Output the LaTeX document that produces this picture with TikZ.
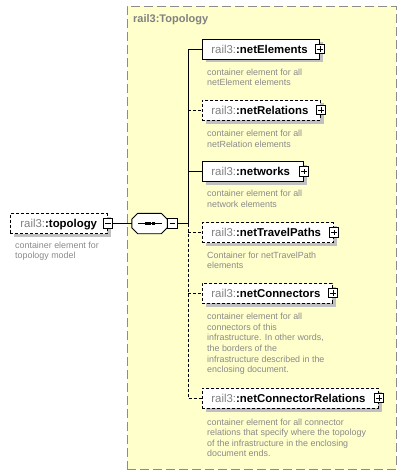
\documentclass[tikz,border=0pt]{standalone}
\usepackage{fontspec}
\setmainfont{Liberation Sans}
\usetikzlibrary{shadows}
\definecolor{cplxfill}{HTML}{FFFFCC}
\definecolor{cplxline}{HTML}{8C8C8C}
\definecolor{pfxgray}{HTML}{808080}
\definecolor{descgray}{HTML}{8A8A8A}
\definecolor{shadowgray}{HTML}{C0C0C0}
% element caption: grey namespace prefix, bold local name
\newcommand\elname[2]{\makebox[#1][l]{\textcolor{pfxgray}{rail3:}\textbf{:#2}}}
\begin{document}
\begin{tikzpicture}[x=1pt,y=-1pt,
  elem/.style={draw=black, fill=white, line width=0.9pt, anchor=west,
    minimum height=20pt, inner xsep=9pt, inner ysep=0pt,
    text height=8.2pt, text depth=0pt,
    font=\fontsize{11.4}{13}\selectfont,
    drop shadow={shadow xshift=4pt, shadow yshift=-3.5pt, fill=shadowgray, opacity=1}},
  optelem/.style={elem, dash pattern=on 3pt off 2pt},
  toggle/.style={draw=black, fill=white, line width=0.8pt, minimum size=9.5pt,
    inner sep=0pt},
  plusbox/.style={toggle, path picture={
    \draw[line width=0.8pt] ([xshift=2pt]path picture bounding box.west) -- ([xshift=-2pt]path picture bounding box.east);
    \draw[line width=0.8pt] ([yshift=-2pt]path picture bounding box.north) -- ([yshift=2pt]path picture bounding box.south);}},
  minusbox/.style={toggle, path picture={
    \draw[line width=0.8pt] ([xshift=2pt]path picture bounding box.west) -- ([xshift=-2pt]path picture bounding box.east);}},
  desc/.style={anchor=north west, inner sep=0pt, align=left, text=descgray,
    font=\fontsize{8.9}{10.6}\selectfont},
  wire/.style={line width=0.9pt, draw=black},
  optwire/.style={wire, dash pattern=on 3pt off 2pt}
]
\useasboundingbox (0,0) rectangle (406,476);

% complex type container
\node[draw=cplxline, fill=cplxfill, line width=0.9pt, dash pattern=on 9pt off 4pt,
  minimum width=269pt, minimum height=463pt, anchor=north west, inner sep=0pt]
  (cplx) at (127,6) {};
\node[anchor=base west, inner sep=0pt, text=pfxgray,
  font=\fontsize{11}{13}\selectfont\bfseries] (title) at (133,23) {rail3:Topology};

% root element
\node[optelem, inner xsep=10pt] (topo) at (10,223.5) {\elname{77pt}{topology}};
\node[minusbox] (topom) at (topo.east) {};
\node[desc] (topod) at (15,241.5) {container element for\\topology model};

% sequence compositor
\node[minimum width=35pt, minimum height=20pt, inner sep=0pt] (seq) at (149.5,223.5) {};
\fill[shadowgray, shift={(4pt,-4pt)}]
  ([xshift=6pt]seq.north west) -- ([xshift=-6pt]seq.north east)
  -- ([yshift=-6pt]seq.north east) -- ([yshift=6pt]seq.south east)
  -- ([xshift=-6pt]seq.south east) -- ([xshift=6pt]seq.south west)
  -- ([yshift=6pt]seq.south west) -- ([yshift=-6pt]seq.north west) -- cycle;
\draw[wire, fill=white]
  ([xshift=6pt]seq.north west) -- ([xshift=-6pt]seq.north east)
  -- ([yshift=-6pt]seq.north east) -- ([yshift=6pt]seq.south east)
  -- ([xshift=-6pt]seq.south east) -- ([xshift=6pt]seq.south west)
  -- ([yshift=6pt]seq.south west) -- ([yshift=-6pt]seq.north west) -- cycle;
\draw[wire] ([xshift=-11.5pt]seq.center) -- ([xshift=12.5pt]seq.center);
\foreach \dx in {-5,-1.5,2} {
  \fill ([xshift=\dx pt, yshift=-1.5pt]seq.center) rectangle ++(3pt,3pt);
}
\node[minusbox, anchor=west] (seqm) at (seq.east) {};

% child elements
\node[elem] (ne) at (202,49) {\elname{99pt}{netElements}};
\node[plusbox] (nem) at (ne.east) {};
\node[desc] (ned) at (207,68.5) {container element for all\\netElement elements};

\node[optelem] (nr) at (202,110) {\elname{100pt}{netRelations}};
\node[plusbox] (nrm) at (nr.east) {};
\node[desc] (nrd) at (207,130) {container element for all\\netRelation elements};

\node[elem] (nw) at (202,171.5) {\elname{83pt}{networks}};
\node[plusbox] (nwm) at (nw.east) {};
\node[desc] (nwd) at (207,190) {container element for all\\network elements};

\node[optelem] (ntp) at (202,232.5) {\elname{113pt}{netTravelPaths}};
\node[plusbox] (ntpm) at (ntp.east) {};
\node[desc] (ntpd) at (207,251.5) {Container for netTravelPath\\elements};

\node[optelem] (nc) at (202,293) {\elname{112pt}{netConnectors}};
\node[plusbox] (ncm) at (nc.east) {};
\node[desc] (ncd) at (207,313) {container element for all\\connectors of this\\infrastructure. In other words,\\the borders of the\\infrastructure described in the\\enclosing document.};

\node[optelem] (ncr) at (202,398) {\elname{158pt}{netConnectorRelations}};
\node[plusbox] (ncrm) at (ncr.east) {};
\node[desc] (ncrd) at (207,418.5) {container element for all connector\\relations that specify where the topology\\of the infrastructure in the enclosing\\document ends.};

% connectors
\coordinate (bus) at (188,223.5);
\draw[wire] (topom.east) -- (seq.west);
\draw[wire] (seqm.east) -- (bus);
\draw[wire] (bus) |- (ne.west);
\draw[wire] (bus) |- (nw.west);
\draw[optwire] (nr.west -| bus) -- (nr.west);
\draw[optwire] (bus) |- (ncr.west);
\draw[optwire] (ntp.west -| bus) -- (ntp.west);
\draw[optwire] (nc.west -| bus) -- (nc.west);
\end{tikzpicture}
\end{document}
